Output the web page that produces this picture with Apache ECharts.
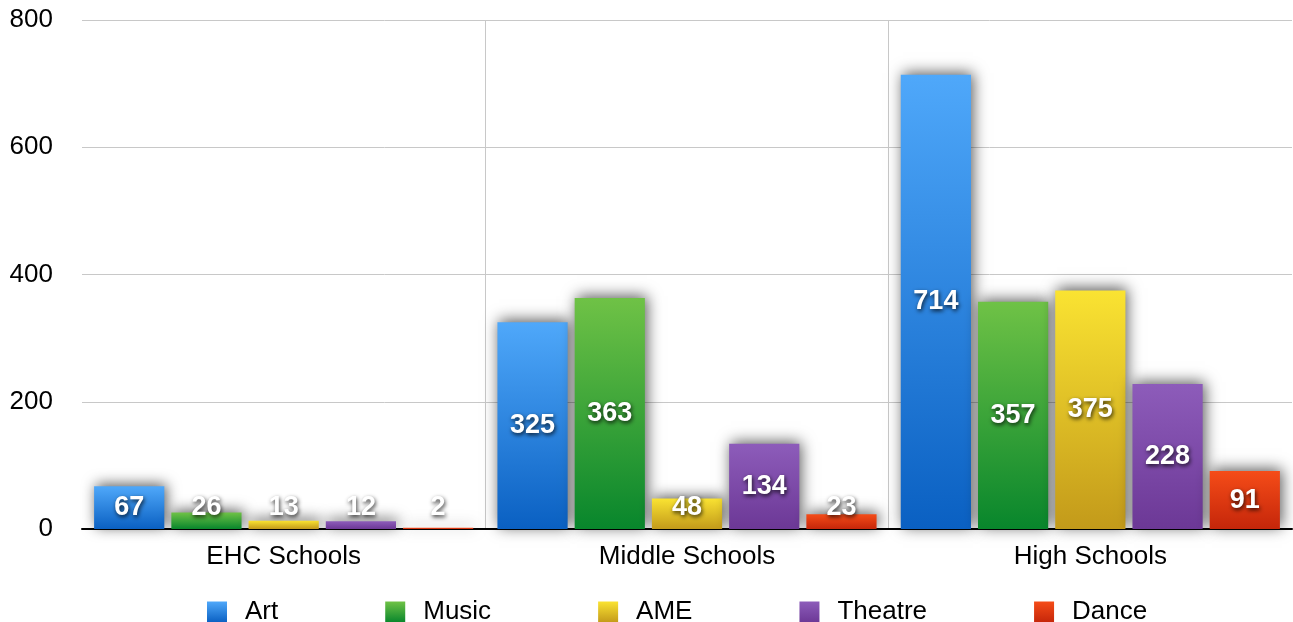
<!DOCTYPE html>
<html>
<head>
<meta charset="utf-8">
<script src="https://cdn.jsdelivr.net/npm/echarts@6/dist/echarts.min.js"></script>
<style>html,body{margin:0;padding:0;background:#fff;}#c{width:1293px;height:622px;}</style>
</head>
<body>
<div id="c"></div>
<script>
var categories = ['EHC Schools', 'Middle Schools', 'High Schools'];
var seriesNames = ['Art', 'Music', 'AME', 'Theatre', 'Dance'];
var artValues = [67, 325, 714];
var musicValues = [26, 363, 357];
var ameValues = [13, 48, 375];
var theatreValues = [12, 134, 228];
var danceValues = [2, 23, 91];
var yTicks = [0, 200, 400, 600, 800];

var gradients = [
  ['#4fa8fa', '#0a60c2'],
  ['#6fc246', '#08862c'],
  ['#fae332', '#c39a1a'],
  ['#8d5cba', '#6c3896'],
  ['#f54c18', '#c5260a']
];
function grad(c) {
  return new echarts.graphic.LinearGradient(0, 0, 0, 1, [
    { offset: 0, color: c[0] }, { offset: 1, color: c[1] }
  ]);
}
var allValues = [artValues, musicValues, ameValues, theatreValues, danceValues];
var FONT = '"Liberation Sans", Arial, Helvetica, sans-serif';
var LABEL_FONT = '"Liberation Sans", Arial, sans-serif';

var series = seriesNames.map(function (name, i) {
  return {
    name: name,
    type: 'bar',
    barGap: '10%',
    barCategoryGap: '6%',
    itemStyle: {
      color: grad(gradients[i]),
      shadowColor: 'rgba(0,0,0,0.65)',
      shadowBlur: 14,
      shadowOffsetX: 2,
      shadowOffsetY: -2
    },
    label: {
      show: true,
      position: 'inside',
      color: '#fff',
      fontFamily: LABEL_FONT,
      fontWeight: 'bold',
      fontSize: 27,
      textShadowColor: 'rgba(0,0,0,0.8)',
      textShadowBlur: 4,
      textShadowOffsetX: 1,
      textShadowOffsetY: 2
    },
    data: allValues[i].map(function (v) {
      if (v < 80) {
        return { value: v, label: { position: 'insideBottom', distance: 8 } };
      }
      return v;
    })
  };
});

var chart = echarts.init(document.getElementById('c'), null, { renderer: 'canvas' });
chart.setOption({
  animation: false,
  backgroundColor: '#fff',
  grid: { left: 82, right: 1, top: 20, bottom: 93, containLabel: false },
  legend: {
    data: seriesNames.map(function (n, i) {
      return { name: n, itemStyle: { color: grad(gradients[i]) } };
    }),
    left: 207,
    top: 599,
    padding: 0,
    icon: 'rect',
    itemWidth: 20,
    itemHeight: 21,
    itemGap: 107,
    textStyle: { fontFamily: FONT, fontSize: 26, color: '#000', padding: [0, 0, 0, 13] }
  },
  xAxis: {
    type: 'category',
    data: categories,
    axisLine: { show: true, lineStyle: { color: '#000', width: 2 } },
    axisTick: { show: false },
    axisLabel: { fontFamily: FONT, fontSize: 26, color: '#000', margin: 15 },
    splitLine: { show: true, showMinLine: false, showMaxLine: false, lineStyle: { color: '#c8c8c8', width: 1 } }
  },
  yAxis: {
    type: 'value',
    min: yTicks[0],
    max: yTicks[yTicks.length - 1],
    interval: 200,
    axisLine: { show: false },
    axisTick: { show: false },
    axisLabel: { fontFamily: FONT, fontSize: 26, color: '#000', margin: 29 },
    splitLine: { show: true, lineStyle: { color: '#c8c8c8', width: 1 } }
  },
  series: series
});
</script>
</body>
</html>
